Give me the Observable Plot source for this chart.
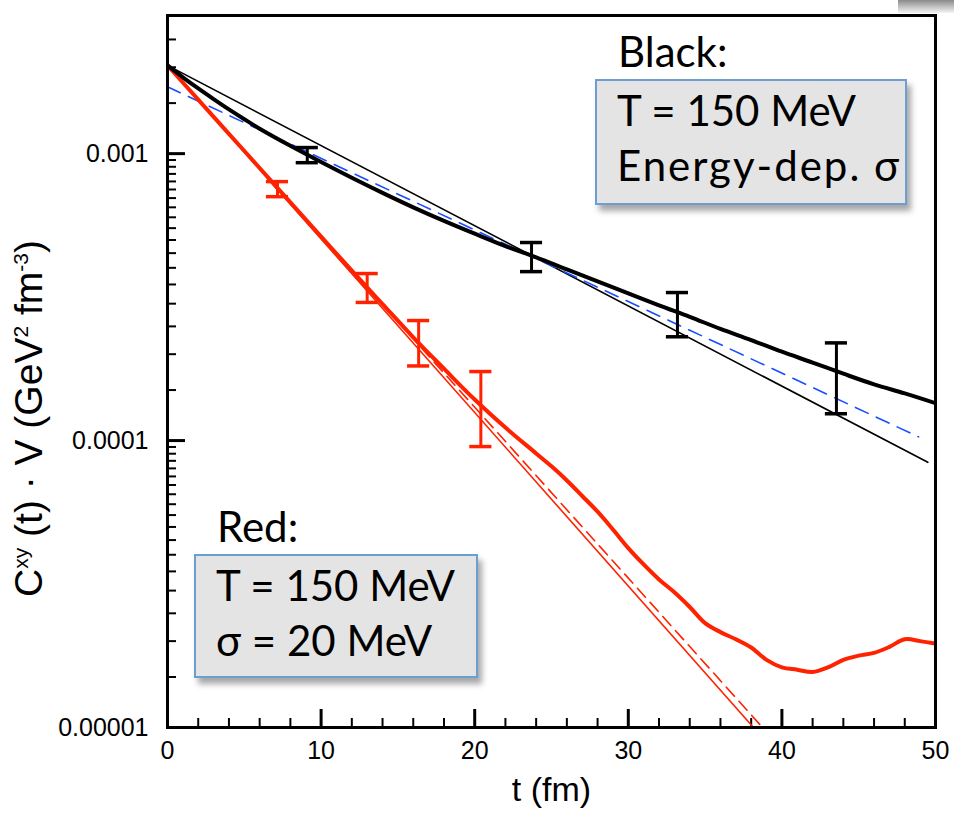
<!DOCTYPE html>
<html>
<head>
<meta charset="utf-8">
<script src="https://cdn.jsdelivr.net/npm/d3@7"></script>
<script src="https://cdn.jsdelivr.net/npm/@observablehq/plot@0.6"></script>
<style>
  body { margin: 0; background: #fff; }
  #wrap { position: relative; width: 954px; height: 815px; overflow: hidden; background: #fff; }
  #wrap svg { position: absolute; left: 0; top: 0; }
  .lbl { position: absolute; font-family: Lato, "Open Sans", sans-serif; font-size: 42px; line-height: 42px; color: #000; white-space: nowrap; }
  .box { position: absolute; box-sizing: border-box; background: #e4e4e4; border: 2px solid #6d9dd3;
         box-shadow: 4px 6px 6px rgba(0,0,0,0.35); font-family: Lato, "Open Sans", sans-serif;
         font-size: 42px; line-height: 55px; color: #000; padding: 2px 0 0 20px; white-space: nowrap; }
  .wide { letter-spacing: 2px; }
  .corner { position: absolute; left: 898px; top: 0; width: 56px; height: 13px;
            background: linear-gradient(to bottom, #8a8a8a, #f4f4f4); }
</style>
</head>
<body>
<div id="wrap">
  <div class="corner"></div>
</div>
<script>
// ---------- data ----------
// thick black curve (T = 150 MeV, energy-dependent sigma)
const tBlackThick = [0, 1, 2, 3, 4, 5, 6, 8, 10, 12, 14, 16, 18, 20, 22, 24, 26, 28, 30, 32, 34, 36, 38, 40, 42, 44, 46, 48, 50];
const cBlackThick = [2.03e-3, 1.845e-3, 1.687e-3, 1.549e-3, 1.426e-3, 1.318e-3, 1.222e-3, 1.065e-3, 9.35e-4, 8.24e-4,
                     7.30e-4, 6.50e-4, 5.83e-4, 5.26e-4, 4.76e-4, 4.35e-4, 3.95e-4, 3.59e-4, 3.26e-4, 2.96e-4,
                     2.70e-4, 2.45e-4, 2.24e-4, 2.04e-4, 1.87e-4, 1.71e-4, 1.57e-4, 1.46e-4, 1.35e-4];
// thin black straight line
const tBlackThin = [0, 49.5];
const cBlackThin = [2.03e-3, 8.4e-5];
// blue dashed line
const tBlueDash = [0, 48.9];
const cBlueDash = [1.71e-3, 1.03e-4];
// thick red curve (T = 150 MeV, sigma = 20 MeV)
const tRedThick = [0, 2, 4, 6, 8, 10, 12, 14, 16, 18, 20, 22, 24, 25, 26, 27, 28, 29, 30, 31, 32, 33, 34, 35, 36, 37, 38, 39, 40, 41, 42, 43, 44, 45, 46, 47, 48, 49, 50];
const cRedThick = [2.03e-3, 1.542e-3, 1.172e-3, 8.91e-4, 6.76e-4, 5.14e-4, 3.91e-4, 2.99e-4, 2.29e-4, 1.78e-4,
                   1.39e-4, 1.11e-4, 9.02e-5, 8.13e-5, 7.26e-5, 6.41e-5, 5.65e-5, 4.90e-5, 4.22e-5, 3.70e-5,
                   3.28e-5, 2.96e-5, 2.63e-5, 2.31e-5, 2.15e-5, 2.03e-5, 1.90e-5, 1.72e-5, 1.62e-5, 1.59e-5,
                   1.56e-5, 1.62e-5, 1.72e-5, 1.78e-5, 1.82e-5, 1.91e-5, 2.03e-5, 2.00e-5, 1.96e-5];
// thin red straight line and red dashed line
const tRedThin = [0, 38.15];
const cRedThin = [2.03e-3, 1.0e-5];
const tRedDash = [0, 38.74];
const cRedDash = [2.03e-3, 1.0e-5];
// error bars
const tErrBlack  = [9.1, 23.7, 33.2, 43.55];
const loErrBlack = [9.3e-4, 3.88e-4, 2.30e-4, 1.24e-4];
const hiErrBlack = [1.05e-3, 4.90e-4, 3.28e-4, 2.19e-4];
const tErrRed  = [7.16, 13.0, 16.35, 20.4];
const loErrRed = [7.08e-4, 3.03e-4, 1.82e-4, 9.53e-5];
const hiErrRed = [7.99e-4, 3.82e-4, 2.62e-4, 1.74e-4];
// axes
const xTicks = [0, 10, 20, 30, 40, 50];
const xMinorTicks = [2, 4, 6, 8, 12, 14, 16, 18, 22, 24, 26, 28, 32, 34, 36, 38, 42, 44, 46, 48];
const yTicks = [1e-3, 1e-4, 1e-5];
const yTickLabels = ["0.001", "0.0001", "0.00001"];
const yMinorMultipliers = [1.5, 2, 2.5, 3, 3.5, 4, 4.5, 5, 5.5, 6, 6.5, 7, 7.5, 8, 8.5, 9, 9.5];
const xLabel = "t (fm)";
// y title pieces: [text, superscript?]
const yLabelParts = [["C", false], ["xy", true], [" (t) · V (GeV", false], ["2", true], [" fm", false], ["-3", true], [")", false]];

// ---------- build ----------
const series = (ts, cs) => ts.map((t, i) => ({t, c: cs[i]}));
const errs = (ts, lo, hi) => ts.map((t, i) => ({t, lo: lo[i], hi: hi[i]}));
const yMinor = [];
for (const d of [1e-5, 1e-4, 1e-3]) for (const m of yMinorMultipliers) { const v = d * m; if (v < 3.0e-3) yMinor.push(v); }
const yFmt = new Map(yTicks.map((v, i) => [v, yTickLabels[i]]));
const yLabel = yLabelParts.map(p => p[0]).join("");

const W = 954, H = 815, mL = 167, mR = 19, mT = 15, mB = 88;
const plotW = W - mL - mR, plotH = H - mT - mB;
const RED = "#ff2200", BLUE = "#1a4dff";
const cap = 0.72;

const eb = errs(tErrBlack, loErrBlack, hiErrBlack);
const er = errs(tErrRed, loErrRed, hiErrRed);

const chart = Plot.plot({
  width: W, height: H,
  marginLeft: mL, marginRight: mR, marginTop: mT, marginBottom: mB,
  x: {domain: [0, 50]},
  y: {type: "log", domain: [1e-5, 3.03e-3]},
  style: {fontFamily: "'Liberation Sans', Arial, sans-serif", fontSize: "25px", background: "transparent", color: "#000"},
  marks: [
    Plot.axisY(yTicks, {tickSize: 0, tickPadding: 19, tickFormat: d => yFmt.get(d), fontSize: 25, label: null}),
    Plot.axisX(xTicks, {tickSize: 0, tickPadding: 14, tickFormat: d => String(d), fontSize: 25, label: null}),
    Plot.tickY(yTicks, {insetRight: plotW - 18, stroke: "#000", strokeWidth: 3}),
    Plot.tickY(yMinor, {insetRight: plotW - 9, stroke: "#000", strokeWidth: 2}),
    Plot.tickX(xTicks, {insetTop: plotH - 18, stroke: "#000", strokeWidth: 3}),
    Plot.tickX(xMinorTicks, {insetTop: plotH - 9, stroke: "#000", strokeWidth: 2}),
    Plot.text([xLabel], {frameAnchor: "bottom", dy: 73, text: d => d, fontSize: 34, fill: "#000"}),
    Plot.text([yLabel], {frameAnchor: "left", dx: -138, dy: 47, rotate: -90, textAnchor: "middle", text: d => d, fontSize: 39, fill: "#000", className: "ylab"}),
    // red straight lines
    Plot.line(series(tRedThin, cRedThin), {x: "t", y: "c", stroke: RED, strokeWidth: 1.6, clip: true}),
    Plot.line(series(tRedDash, cRedDash), {x: "t", y: "c", stroke: RED, strokeWidth: 1.6, strokeDasharray: "12,7", clip: true}),
    // black thin and blue dashed
    Plot.line(series(tBlackThin, cBlackThin), {x: "t", y: "c", stroke: "#000", strokeWidth: 1.6, clip: true}),
    Plot.line(series(tBlueDash, cBlueDash), {x: "t", y: "c", stroke: BLUE, strokeWidth: 1.6, strokeDasharray: "14,9", clip: true}),
    // thick curves
    Plot.line(series(tRedThick, cRedThick), {x: "t", y: "c", stroke: RED, strokeWidth: 4, curve: "catmull-rom", clip: true}),
    Plot.line(series(tBlackThick, cBlackThick), {x: "t", y: "c", stroke: "#000", strokeWidth: 4, curve: "catmull-rom", clip: true}),
    // error bars
    Plot.ruleX(eb, {x: "t", y1: "lo", y2: "hi", stroke: "#000", strokeWidth: 3}),
    Plot.ruleY(eb, {y: "lo", x1: d => d.t - cap, x2: d => d.t + cap, stroke: "#000", strokeWidth: 3.5}),
    Plot.ruleY(eb, {y: "hi", x1: d => d.t - cap, x2: d => d.t + cap, stroke: "#000", strokeWidth: 3.5}),
    Plot.ruleX(er, {x: "t", y1: "lo", y2: "hi", stroke: RED, strokeWidth: 3}),
    Plot.ruleY(er, {y: "lo", x1: d => d.t - cap, x2: d => d.t + cap, stroke: RED, strokeWidth: 3.5}),
    Plot.ruleY(er, {y: "hi", x1: d => d.t - cap, x2: d => d.t + cap, stroke: RED, strokeWidth: 3.5}),
    Plot.frame({stroke: "#000", strokeWidth: 3})
  ]
});
const wrap = document.getElementById("wrap");
wrap.appendChild(chart);

// rebuild the y title with real superscripts
const SVGNS = "http://www.w3.org/2000/svg";
chart.querySelectorAll(".ylab text").forEach(t => {
  t.textContent = "";
  let raised = false;
  for (const [s, sup] of yLabelParts) {
    const ts = document.createElementNS(SVGNS, "tspan");
    ts.textContent = s;
    if (sup) ts.setAttribute("font-size", "21");
    if (sup && !raised) ts.setAttribute("dy", "-14");
    if (!sup && raised) ts.setAttribute("dy", "14");
    raised = sup;
    t.appendChild(ts);
  }
});

// annotation boxes
function addDiv(cls, css, html) {
  const d = document.createElement("div");
  d.className = cls;
  Object.assign(d.style, css);
  d.innerHTML = html;
  wrap.appendChild(d);
}
addDiv("lbl", {left: "618px", top: "30px"}, "Black:");
addDiv("box", {left: "595px", top: "79px", width: "312px", height: "126px"}, "T = 150 MeV<br><span class=\"wide\">Energy-dep. σ</span>");
addDiv("lbl", {left: "217px", top: "505px"}, "Red:");
addDiv("box", {left: "194px", top: "554px", width: "284px", height: "124px"}, "T = 150 MeV<br>σ = 20 MeV");
</script>
</body>
</html>
